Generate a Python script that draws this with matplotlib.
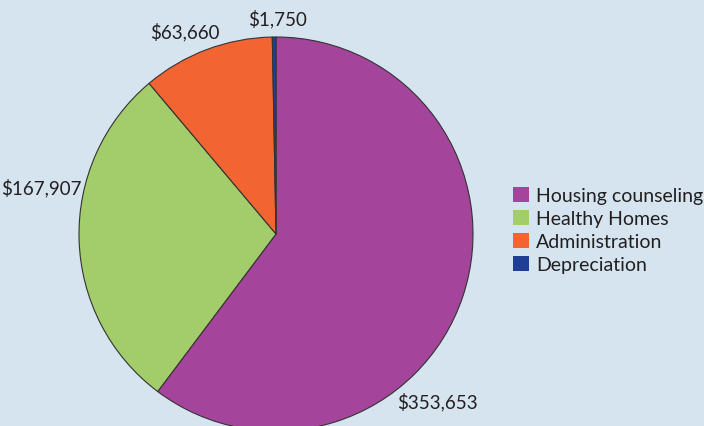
import matplotlib
matplotlib.use('Agg')
import matplotlib.pyplot as plt
from matplotlib.patches import Patch

# --- data ---
categories = ["Housing counseling", "Healthy Homes", "Administration", "Depreciation"]
amounts = [353653, 167907, 63660, 1750]
label_text = ["$353,653", "$167,907", "$63,660", "$1,750"]

colors = ["#a4449a", "#a2cd6a", "#f26532", "#1f3f94"]
BG = "#d5e4ef"

plt.rcParams['font.family'] = ['Lato', 'DejaVu Sans']

W, H = 704, 427
fig = plt.figure(figsize=(W / 100, H / 100), dpi=100, facecolor=BG)

# pie centre and radius in pixels
cx, cy, r = 276, 235, 197
ax = fig.add_axes([(cx - r) / W, (H - cy - r) / H, 2 * r / W, 2 * r / H])
ax.set_facecolor(BG)

ax.pie(amounts, colors=colors, startangle=90, counterclock=False, radius=1,
       wedgeprops={'edgecolor': '#333333', 'linewidth': 0.8})
ax.set_xlim(-1, 1)
ax.set_ylim(-1, 1)
ax.axis('off')


def px(x, y):
    return (x - cx) / r, (cy - y) / r


# value labels (pixel positions)
label_pos = [(437, 402, 'center'), (82, 188, 'right'), (185, 32, 'center'), (278, 19, 'center')]
for txt, (x, y, ha) in zip(label_text, label_pos):
    ax.text(*px(x, y), txt, ha=ha, va='center', fontsize=13.5, color='#231f20',
            clip_on=False)

handles = [Patch(facecolor=c, edgecolor='none') for c in colors]
leg = fig.legend(handles, categories, loc='upper left',
                 bbox_to_anchor=(513 / W, (H - 188) / H),
                 frameon=False, fontsize=14, handlelength=0.8, handleheight=0.8,
                 handletextpad=0.4, labelspacing=0.3, borderaxespad=0, borderpad=0)
for t in leg.get_texts():
    t.set_color('#231f20')

fig.savefig('out.png', dpi=100, facecolor=BG)
